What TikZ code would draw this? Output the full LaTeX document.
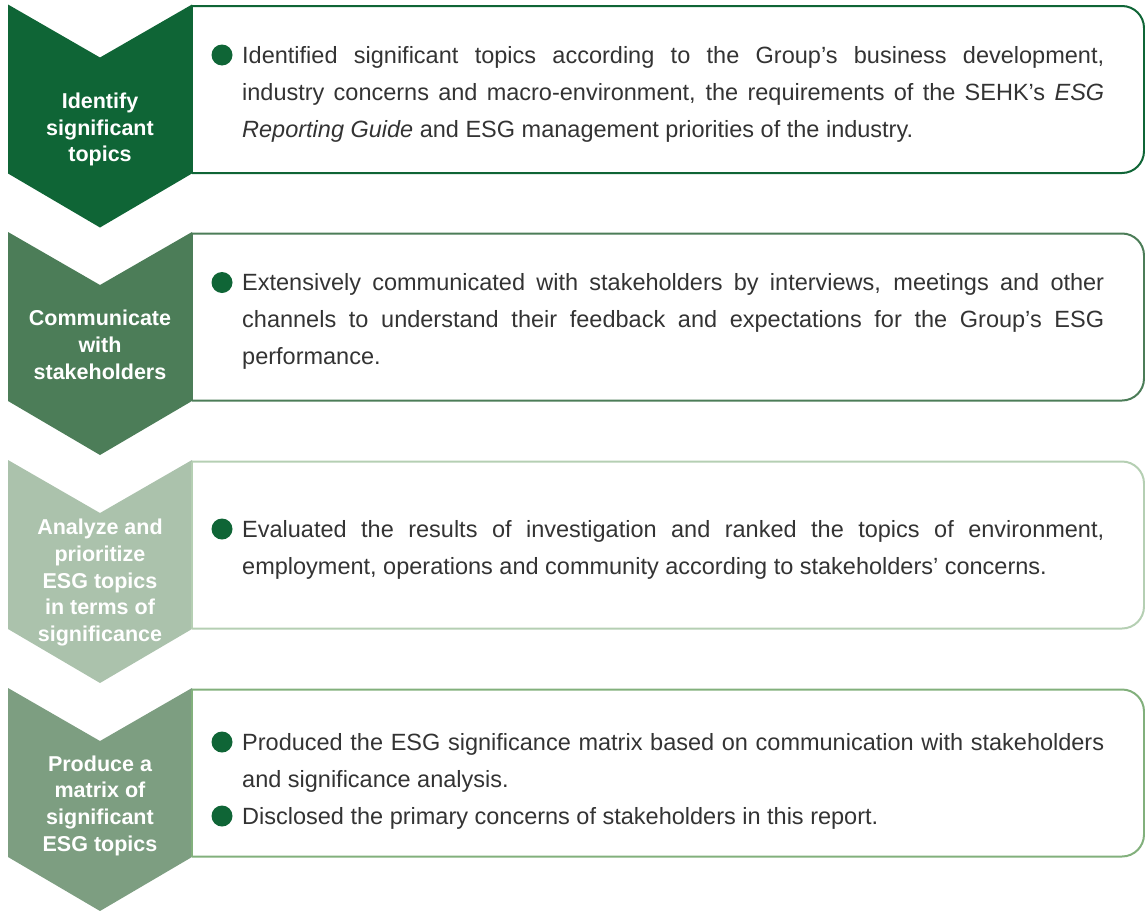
\documentclass[tikz,border=0pt]{standalone}
\usepackage{fontspec}
\setmainfont{Liberation Sans}
\definecolor{stepA}{HTML}{0F6536}
\definecolor{stepB}{HTML}{4C7D58}
\definecolor{stepC}{HTML}{ABC2AC}
\definecolor{lineC}{HTML}{B5CFB3}
\definecolor{stepD}{HTML}{7D9E81}
\definecolor{lineD}{HTML}{82B07C}
\definecolor{bodygrey}{HTML}{333333}
\newcommand\bodyfont{\fontsize{23.5}{37}\selectfont}
\newcommand\jline[1]{\makebox[862pt][s]{#1}}
% chevron on the left and a box with rounded right corners
% #1 top edge, #2 chevron colour, #3 border colour
\newcommand\chevronbox[3]{%
  \fill[#2] (8,#1) -- (100,#1+53) -- (192,#1) -- (192,#1+169)
            -- (100,#1+223) -- (8,#1+169) -- cycle;
  \draw[boxline,#3,rounded corners=22pt] (192,#1+1.5) -- (1144,#1+1.5)
            -- (1144,#1+168.5) -- (192,#1+168.5);
  \draw[boxline,#3] (192,#1+1.5) -- (192,#1+168.5);
}
\begin{document}
\begin{tikzpicture}[x=1pt,y=-1pt,
  boxline/.style={line width=2pt},
  steplabel/.style={align=center,text=white,inner sep=0pt,
    font=\bfseries\fontsize{21.5}{26.7}\selectfont},
  bodyline/.style={anchor=base west,inner sep=0pt,text=bodygrey,font=\bodyfont},
  bulletdot/.style={circle,fill=stepA,minimum size=21pt,inner sep=0pt}]
\useasboundingbox (0,0) rectangle (1145,910);

% step 1
\chevronbox{4.5}{stepA}{stepA}
\node[steplabel] (s1) at (100,129.5) {Identify\\significant\\topics};
\node[bulletdot] (b1) at (222,55) {};
\node[bodyline] (t1a) at (242,63) {\jline{Identified significant topics according to the Group’s business development,}};
\node[bodyline] (t1b) at (242,100) {\jline{industry concerns and macro-environment, the requirements of the SEHK’s \textit{ESG}}};
\node[bodyline] (t1c) at (242,137) {\textit{Reporting Guide} and ESG management priorities of the industry.};

% step 2
\chevronbox{232}{stepB}{stepB}
\node[steplabel] (s2) at (100,345) {Communicate\\with\\stakeholders};
\node[bulletdot] (b2) at (222,282.5) {};
\node[bodyline] (t2a) at (242,290.5) {\jline{Extensively communicated with stakeholders by interviews, meetings and other}};
\node[bodyline] (t2b) at (242,327.5) {\jline{channels to understand their feedback and expectations for the Group’s ESG}};
\node[bodyline] (t2c) at (242,364.5) {performance.};

% step 3
\chevronbox{460}{stepC}{lineC}
\node[steplabel] (s3) at (100,582.5) {Analyze and\\prioritize\\ESG topics\\in terms of\\significance};
\node[bulletdot] (b3) at (222,529) {};
\node[bodyline] (t3a) at (242,537) {\jline{Evaluated the results of investigation and ranked the topics of environment,}};
\node[bodyline] (t3b) at (242,574) {employment, operations and community according to stakeholders’ concerns.};

% step 4
\chevronbox{688}{stepD}{lineD}
\node[steplabel] (s4) at (100,805.5) {Produce a\\matrix of\\significant\\ESG topics};
\node[bulletdot] (b4a) at (222,742) {};
\node[bodyline] (t4a) at (242,750) {\jline{Produced the ESG significance matrix based on communication with stakeholders}};
\node[bodyline] (t4b) at (242,787) {and significance analysis.};
\node[bulletdot] (b4b) at (222,816) {};
\node[bodyline] (t4c) at (242,824) {Disclosed the primary concerns of stakeholders in this report.};
\end{tikzpicture}
\end{document}
